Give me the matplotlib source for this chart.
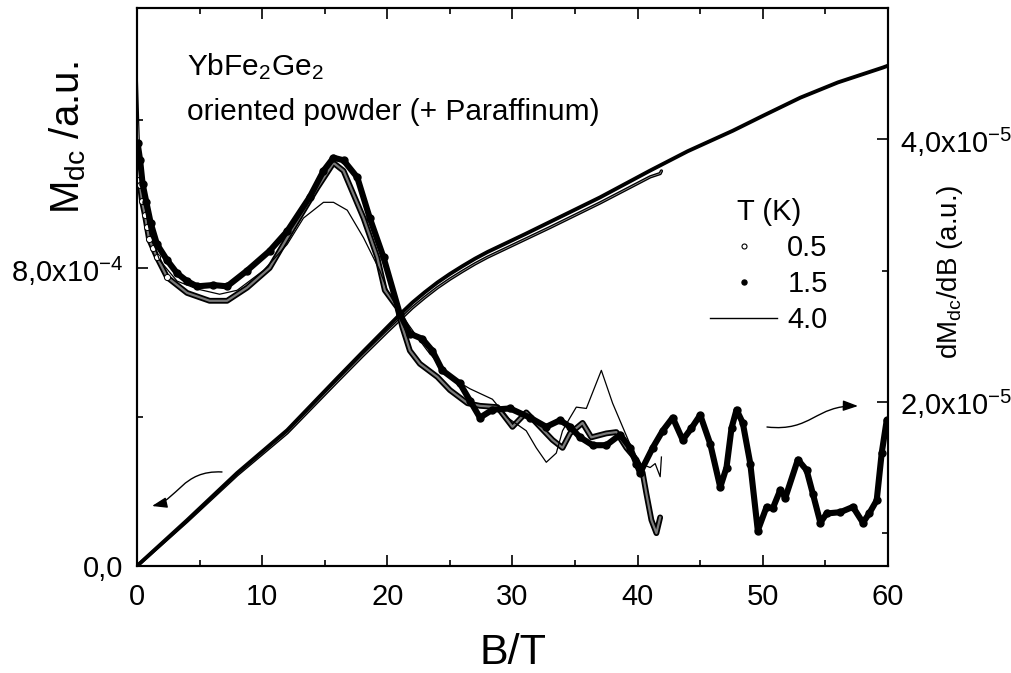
import matplotlib
matplotlib.use("Agg")
import numpy as np
import matplotlib.pyplot as plt
from matplotlib.lines import Line2D
from matplotlib.patches import FancyArrowPatch
from matplotlib.path import Path
from matplotlib.ticker import FixedLocator, FixedFormatter

plt.rcParams['font.family'] = ['Liberation Sans', 'DejaVu Sans']
plt.rcParams['mathtext.fontset'] = 'custom'
plt.rcParams['mathtext.rm'] = 'Liberation Sans'
plt.rcParams['mathtext.it'] = 'Liberation Sans:italic'
plt.rcParams['mathtext.default'] = 'regular'

# ---- magnetization M_dc(B), units of 1e-4 ----
B_m15 = [0, 4, 8, 12, 16, 18, 20, 21, 22, 23, 24, 25, 26, 27, 28, 29, 31, 33, 35,
         37, 39, 41, 44, 47.6, 50, 53, 56, 59.6, 60]
M_15 = [0, 1.23, 2.50, 3.65, 5.05, 5.74, 6.42, 6.76, 7.08, 7.36, 7.62, 7.85, 8.06,
        8.26, 8.44, 8.60, 8.92, 9.25, 9.58, 9.91, 10.27, 10.63, 11.15, 11.70,
        12.10, 12.59, 13.00, 13.40, 13.45]
B_m05 = [0, 4, 8, 12, 16, 18, 20, 21, 22, 23, 24, 25, 26, 27, 28, 29, 31, 33, 35,
         37, 39, 41, 41.8, 41.9]
M_05 = [0, 1.20, 2.45, 3.58, 4.96, 5.64, 6.30, 6.62, 6.94, 7.22, 7.48, 7.71, 7.92,
        8.12, 8.30, 8.46, 8.78, 9.10, 9.43, 9.76, 10.11, 10.46, 10.55, 10.62]

# ---- differential susceptibility dM/dB, units of 1e-5 ----
B_d15 = [0.05, 0.25, 0.45, 0.75, 1.1, 1.6, 2.4, 3.2, 4.0, 4.8, 6.1, 7.2, 8.8, 10.6,
         12.0, 13.8, 14.9, 15.7, 16.5, 17.6, 18.6, 19.7, 21.0, 21.8, 22.8, 23.6,
         24.4, 25.8, 26.6, 27.4, 28.4, 29.8, 31.4, 32.7, 33.8, 34.6, 35.4, 36.4,
         37.5, 38.6, 39.4, 39.9, 40.2, 41.2, 42.0, 42.8, 43.6, 44.3, 45.0, 45.8,
         46.6, 47.1, 47.5, 47.9, 48.4, 49.0, 49.6, 50.3, 50.8, 51.4, 51.8, 52.8,
         53.5, 54.0, 54.6, 55.1, 56.2, 57.2, 58.0, 58.5, 59.1, 59.5, 59.9]
D_15 = [3.97, 3.84, 3.66, 3.52, 3.36, 3.20, 3.08, 2.98, 2.92, 2.88, 2.89, 2.88,
        3.00, 3.15, 3.30, 3.56, 3.76, 3.86, 3.84, 3.71, 3.40, 3.10, 2.67, 2.52,
        2.48, 2.39, 2.24, 2.14, 2.01, 1.88, 1.94, 1.95, 1.88, 1.81, 1.86, 1.81,
        1.73, 1.67, 1.67, 1.75, 1.65, 1.53, 1.46, 1.65, 1.78, 1.88, 1.71, 1.80,
        1.90, 1.68, 1.35, 1.50, 1.80, 1.94, 1.84, 1.53, 1.02, 1.20, 1.19, 1.33,
        1.27, 1.56, 1.48, 1.30, 1.08, 1.15, 1.16, 1.20, 1.08, 1.15, 1.25, 1.61, 1.86]

B_d05 = [0.0, 0.24, 0.4, 0.64, 0.8, 0.96, 1.28, 1.6, 2.4, 4.0, 5.8, 7.2, 8.8, 10.6,
         12.5, 14.4, 15.7, 16.5, 18.1, 19.2, 19.8, 20.8, 21.2, 21.8, 22.6, 24.0,
         25.0, 26.4, 27.4, 28.8, 29.6, 30.0, 31.1, 32.2, 33.2, 34.0, 34.6, 35.6,
         36.3, 37.5, 38.3, 39.1, 39.9, 40.4, 40.7, 41.1, 41.5, 41.8]
D_05 = [3.69, 3.65, 3.53, 3.42, 3.33, 3.24, 3.17, 3.10, 2.95, 2.83, 2.77, 2.77,
        2.87, 3.02, 3.33, 3.63, 3.82, 3.76, 3.40, 3.10, 2.85, 2.72, 2.57, 2.39,
        2.29, 2.19, 2.09, 1.99, 1.97, 1.96, 1.86, 1.81, 1.92, 1.81, 1.71, 1.65,
        1.76, 1.84, 1.73, 1.76, 1.77, 1.65, 1.56, 1.46, 1.30, 1.10, 1.00, 1.12]

B_d40 = [0.0, 0.25, 0.8, 1.0, 1.8, 3.2, 4.8, 6.6, 8.0, 10.1, 12.0, 13.3, 14.9,
         15.7, 16.8, 18.1, 19.4, 20.0, 21.0, 22.5, 23.2, 25.0, 26.6, 28.4, 29.6,
         31.1, 31.9, 32.7, 33.5, 34.0, 34.6, 35.1, 35.9, 37.1, 38.0, 38.8, 39.6,
         40.2, 41.0, 41.4, 41.8, 41.9]
D_40 = [4.54, 3.78, 3.40, 3.30, 3.08, 2.92, 2.86, 2.82, 2.85, 3.00, 3.20, 3.40,
        3.52, 3.52, 3.46, 3.25, 3.00, 2.85, 2.68, 2.48, 2.39, 2.19, 2.10, 2.02,
        1.88, 1.78, 1.65, 1.54, 1.61, 1.78, 1.88, 1.96, 1.95, 2.24, 1.99, 1.81,
        1.63, 1.53, 1.50, 1.53, 1.43, 1.58]

x_ticks = [0, 10, 20, 30, 40, 50, 60]
x_tick_labels = ['0', '10', '20', '30', '40', '50', '60']
m_ticks = [0.0, 8e-4]
m_tick_labels = ['0,0', '8,0x10$^{-4}$']
d_ticks = [2e-5, 4e-5]
d_tick_labels = ['2,0x10$^{-5}$', '4,0x10$^{-5}$']
temps = ['0.5', '1.5', '4.0']

TICK_FS = 21

fig = plt.figure(figsize=(10.11, 6.73), dpi=100)
ax = fig.add_axes([0.1355, 0.1590, 0.7428, 0.8291])
ax2 = ax.twinx()

m15 = np.array(M_15) * 1e-4
m05 = np.array(M_05) * 1e-4
d15 = np.array(D_15) * 1e-5
d05 = np.array(D_05) * 1e-5
d40 = np.array(D_40) * 1e-5

# magnetization curves (left axis)
ax.plot(B_m05, m05, color='black', lw=2.4, solid_capstyle='round', zorder=2)
ax.plot(B_m05, m05, color='#a0a0a0', lw=0.5, zorder=2.1)
ax.plot(B_m15, m15, color='black', lw=2.8, solid_capstyle='round', zorder=3)

# dM/dB curves (right axis)
ax2.plot(B_d05, d05, color='black', lw=4.2, solid_capstyle='round', zorder=2)
ax2.plot(B_d05, d05, color='#7a7a7a', lw=1.6, zorder=2.1)
ax2.plot(B_d05, d05, ls='none', marker='o', ms=4.4, mfc='white', mec='black',
         mew=0.7, markevery=slice(0, 9), zorder=2.2)
ax2.plot(B_d15, d15, color='black', lw=4.4, marker='o', ms=5.0,
         solid_capstyle='round', zorder=3)
ax2.plot(B_d40, d40, color='black', lw=0.9, zorder=4)

ax.set_xlim(0, 60)
ax.set_ylim(0, 1.5e-3)
ax2.set_ylim(0.75e-5, 5.0e-5)

ax.xaxis.set_major_locator(FixedLocator(x_ticks))
ax.xaxis.set_major_formatter(FixedFormatter(x_tick_labels))
ax.xaxis.set_minor_locator(FixedLocator([5, 15, 25, 35, 45, 55]))
ax.yaxis.set_major_locator(FixedLocator(m_ticks))
ax.yaxis.set_major_formatter(FixedFormatter(m_tick_labels))
ax.yaxis.set_minor_locator(FixedLocator([4e-4, 12e-4]))
ax2.yaxis.set_major_locator(FixedLocator(d_ticks))
ax2.yaxis.set_major_formatter(FixedFormatter(d_tick_labels))
ax2.yaxis.set_minor_locator(FixedLocator([1e-5, 3e-5]))

for a in (ax, ax2):
    for s in a.spines.values():
        s.set_linewidth(1.5)
ax.tick_params(axis='x', which='both', direction='in', top=True, bottom=True,
               labelsize=TICK_FS, pad=12)
ax.tick_params(axis='y', which='both', direction='in', left=True, right=False,
               labelsize=TICK_FS, pad=10)
ax2.tick_params(axis='y', which='both', direction='in', right=True,
                labelsize=TICK_FS, pad=9)
for a in (ax, ax2):
    a.tick_params(which='major', length=8, width=1.2)
    a.tick_params(which='minor', length=4.5, width=1.2)

# axis titles
fig.text(0.079, 0.796, 'M$_{dc}$ /a.u.', rotation=90, rotation_mode='anchor',
         ha='center', va='baseline', fontsize=29)
fig.text(0.947, 0.596, 'dM$_{dc}$/dB (a.u.)', rotation=90, rotation_mode='anchor',
         ha='center', va='baseline', fontsize=20)
fig.text(0.507, 0.014, 'B/T', ha='center', va='baseline', fontsize=31)

# sample description
ax.text(0.0666, 0.880, 'YbFe$_2$Ge$_2$', transform=ax.transAxes,
        ha='left', va='baseline', fontsize=21.5)
ax.text(0.0666, 0.799, 'oriented powder (+ Paraffinum)', transform=ax.transAxes,
        ha='left', va='baseline', fontsize=21.5)

# legend
handles = [
    Line2D([], [], ls='none', marker='o', ms=3.6, mfc='white', mec='black', mew=0.8),
    Line2D([], [], ls='none', marker='o', ms=3.6, color='black'),
    Line2D([], [], color='black', lw=1.0),
]
leg = ax2.legend(handles, temps, title='T (K)', frameon=False, loc='upper left',
                 bbox_to_anchor=(0.763, 0.660), fontsize=21, title_fontsize=21,
                 handlelength=2.3, handletextpad=0.35, labelspacing=0.28,
                 borderpad=0, borderaxespad=0)

# curved arrows pointing to the relevant axes
arrow_style = '-|>,head_length=0.45,head_width=0.16'
left_arrow = Path([(0.1132, 0.1685), (0.0599, 0.172), (0.0546, 0.1183), (0.020, 0.1075)],
                  [Path.MOVETO, Path.CURVE4, Path.CURVE4, Path.CURVE4])
right_arrow = Path([(0.8389, 0.2491), (0.8988, 0.2401), (0.9028, 0.2885), (0.9601, 0.2867)],
                   [Path.MOVETO, Path.CURVE4, Path.CURVE4, Path.CURVE4])
for p in (left_arrow, right_arrow):
    ax2.add_patch(FancyArrowPatch(path=p, transform=ax2.transAxes, arrowstyle=arrow_style,
                                  mutation_scale=20, color='black', lw=1.0))

fig.savefig('out.png', dpi=100)
